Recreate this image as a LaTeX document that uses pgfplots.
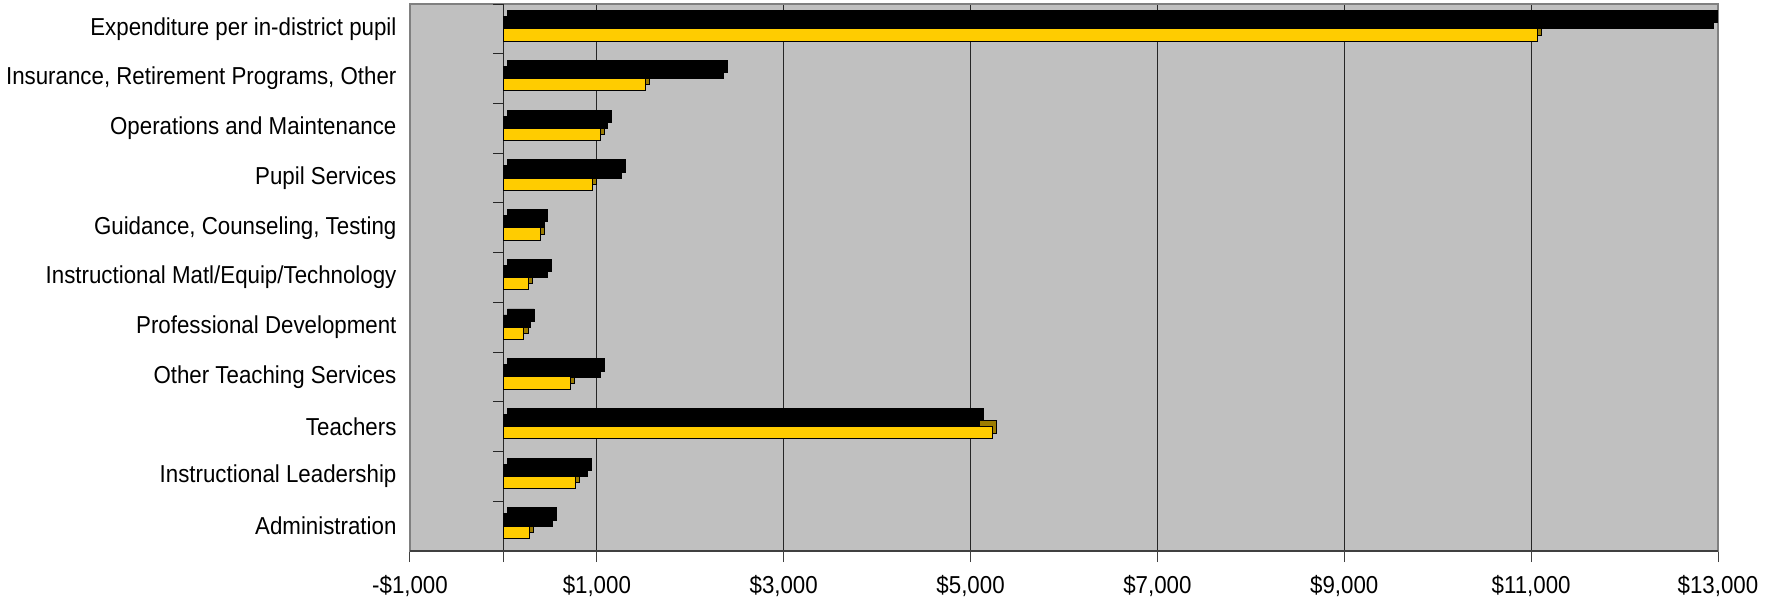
\documentclass[border=0pt]{standalone}
\usepackage{fontspec}
\setmainfont{Liberation Sans}[FakeStretch=0.91]
\usepackage{pgfplots}
\usepackage{pgfplotstable}
\pgfplotsset{compat=1.18}
\definecolor{plotgray}{HTML}{C0C0C0}
\definecolor{baryellow}{HTML}{FFCC00}
\definecolor{bargold}{HTML}{9C7C00}
\definecolor{bordergray}{HTML}{808080}
\definecolor{axisdark}{HTML}{404040}

\pgfplotstableread{
y black yellow
0 520 275
1 900 775
2 5090 5230
3 1040 715
4 285 220
5 470 270
6 430 400
7 1260 955
8 1118 1040
9 2350 1518
10 12950 11070
}\spenddata

\begin{document}
\fontsize{12.25}{14}\selectfont
\begin{tikzpicture}
\begin{axis}[name=ax,
  scale only axis, width=654pt, height=273.5pt,
  xmin=-1000, xmax=13000, ymin=-0.5, ymax=10.5,
  axis background/.style={fill=plotgray},
  axis line style={draw=bordergray, line width=0.8pt},
  xtick={-1000,1000,3000,5000,7000,9000,11000,13000},
  xticklabels={{-\$1,000},{\$1,000},{\$3,000},{\$5,000},{\$7,000},{\$9,000},{\$11,000},{\$13,000}},
  xtick pos=left, tick align=outside, major tick length=5.5pt,
  x tick style={draw=axisdark, line width=0.5pt},
  xticklabel style={anchor=north, yshift=-2.3pt, font=\fontsize{12.25}{14}\selectfont},
  xmajorgrids,
  grid style={draw=black!85, line width=0.5pt},
  extra x ticks={0}, extra x tick labels={},
  extra x tick style={grid=major, tick style={draw=none}},
  ytick={0,...,10},
  yticklabels={Administration, Instructional Leadership, Teachers, Other Teaching Services, Professional Development, Instructional Matl/Equip/Technology, {Guidance, Counseling, Testing}, Pupil Services, Operations and Maintenance, {Insurance, Retirement Programs, Other}, Expenditure per in-district pupil},
  y tick style={draw=none},
  yticklabel style={anchor=east, xshift=3pt, font=\fontsize{12.25}{14}\selectfont},
  xbar, bar width=6.15pt,
]
% depth faces (drawn behind)
\addplot[xbar, bar width=6.15pt, bar shift=-3.075pt, fill=bargold, draw=black, line width=0.4pt, xshift=2pt, yshift=3pt] table[x=yellow, y=y] {\spenddata};
\addplot[xbar, bar width=6.15pt, bar shift=3.075pt, fill=black, draw=black, line width=0.4pt, xshift=2pt, yshift=3pt] table[x=black, y=y] {\spenddata};
% front faces
\addplot[xbar, bar width=6.15pt, bar shift=3.075pt, fill=black, draw=black, line width=0.4pt] table[x=black, y=y] {\spenddata};
\addplot[xbar, bar width=6.15pt, bar shift=-3.075pt, fill=baryellow, draw=black, line width=0.5pt] table[x=yellow, y=y] {\spenddata};
\pgfplotsinvokeforeach{-0.5,0.5,1.5,2.5,3.5,4.5,5.5,6.5,7.5,8.5,9.5,10.5}{
  \draw[black!85, line width=0.5pt] (axis cs:0,#1) -- ([xshift=-5pt]axis cs:0,#1);
}
\draw[axisdark, line width=1pt] (rel axis cs:0,0) -- (rel axis cs:1,0);
\end{axis}
\pgfresetboundingbox
\path[use as bounding box] ([xshift=-205pt,yshift=-25pt]ax.south west) rectangle ([xshift=30.5pt,yshift=2pt]ax.north east);
\end{tikzpicture}
\end{document}
